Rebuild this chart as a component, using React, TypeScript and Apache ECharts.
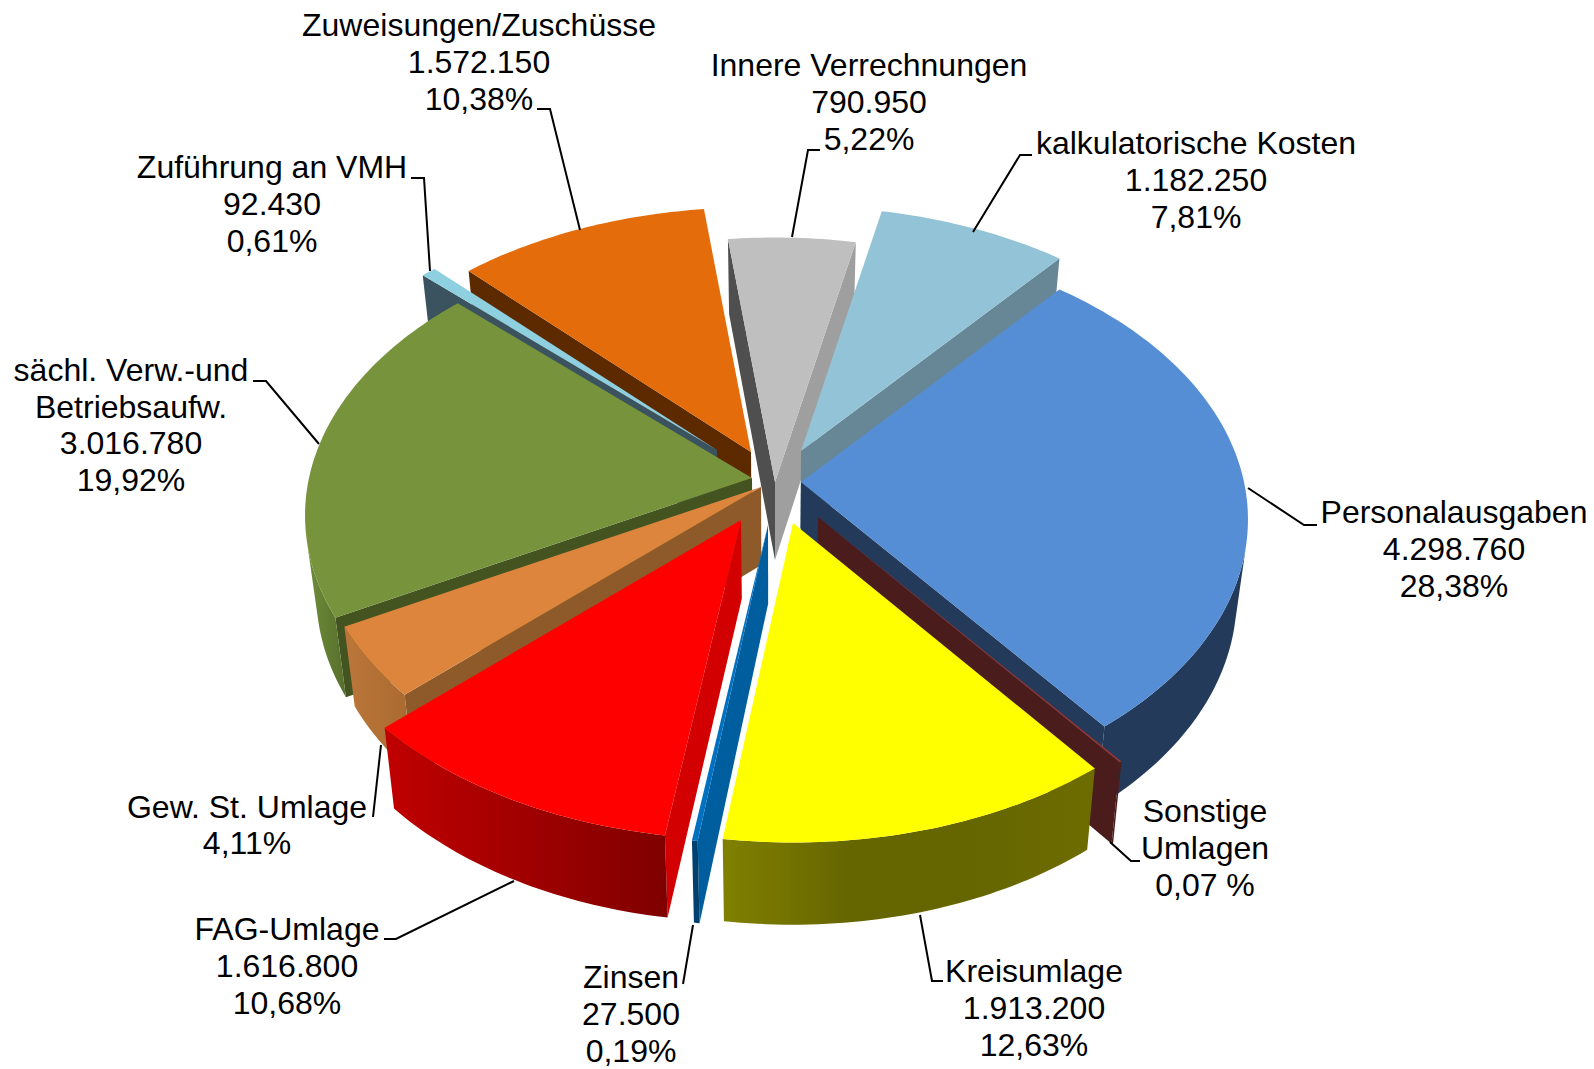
import React, { useEffect, useRef } from "react";
import * as echarts from "echarts";

// ---- data, clockwise from the Personal/kalk. boundary ----
const names = ["Personalausgaben", "Sonstige\nUmlagen", "Kreisumlage", "Zinsen", "FAG-Umlage", "Gew. St. Umlage", "sächl. Verw.-und\nBetriebsaufw.", "Zuführung an VMH", "Zuweisungen/Zuschüsse", "Innere Verrechnungen", "kalkulatorische Kosten"];
const values = [4298760, 10600, 1913200, 27500, 1616800, 622500, 3016780, 92430, 1572150, 790950, 1182250];
const amountLabels = ["4.298.760", "", "1.913.200", "27.500", "1.616.800", "", "3.016.780", "92.430", "1.572.150", "790.950", "1.182.250"];
const percentLabels = ["28,38%", "0,07 %", "12,63%", "0,19%", "10,68%", "4,11%", "19,92%", "0,61%", "10,38%", "5,22%", "7,81%"];

// ---- styles ----
const topColors = ["#558ED5", "#943634", "#FFFF00", "#0070C0", "#FF0000", "#DD853D", "#77933C", "#8ECFE0", "#E46C0A", "#BFBFBF", "#92C3D7"];
const startWallColors = ["#243A5B", "#4A1C1B", "#666600", "#005E9F", "#D20000", "#8F5A29", "#435421", "#3A535E", "#5D2A00", "#4F4F4F", "#678796"];
const endWallColors = ["#243A5B", "#4A1C1B", "#666600", "#005E9F", "#D20000", "#8F5A29", "#435421", "#3A535E", "#5D2A00", "#9F9F9F", "#678796"];
const outerWallStops = [
  ["#243A5B"], ["#4A1C1B"], ["#808000", "#666600", "#666600", "#6C6C00"], ["#00406E"],
  ["#C00000", "#A00000", "#7F0000"], ["#BC763A", "#A86A30"], ["#6F8F39", "#566D2C"],
  ["#3A535E"], ["#5D2A00"], ["#4F4F4F"], ["#678796"],
];
const drawOrder = [8, 9, 10, 7, 6, 0, 5, 1, 4, 3, 2];

// ---- layout ----
const apexes = [[801, 482], [818, 517], [793, 523], [768, 525], [741, 520], [761, 487], [752, 478], [717, 450], [751, 452], [775, 482], [801, 451]];
const startAngle = -50;
const RX = 443, RY = 277, PERSPECTIVE = 0.133;
const labelCenters = [[1454, 549], [1205, 848], [1034, 1008], [631, 1014], [287, 966], [247, 825], [131, 425], [272, 204], [479, 62], [869, 102], [1196, 180]];
const leaders = [
  [[1248, 488], [1304, 525], [1317, 525]],
  [[1110, 842], [1131, 861], [1140, 861]],
  [[920, 915], [932, 981], [943, 981]],
  [[693, 925], [683, 984]],
  [[514, 881], [396, 939], [384, 939]],
  [[381, 745], [373, 817]],
  [[319, 444], [266, 381], [253, 381]],
  [[430, 271], [424, 178], [411, 178]],
  [[580, 230], [550, 109], [537, 109]],
  [[792, 237], [808, 150], [820, 150]],
  [[973, 232], [1020, 155], [1032, 155]],
];

const total = values.reduce((a, b) => a + b, 0);
const sliceAngles = (() => {
  let cur = startAngle;
  return values.map((v) => {
    const from = cur;
    cur += (v / total) * 360;
    return [from, cur];
  });
})();

function project(apex: number[], deg: number) {
  const t = (deg * Math.PI) / 180;
  const u = Math.cos(t), v = Math.sin(t);
  const s = 1 / (1 - PERSPECTIVE * v);
  return [apex[0] + RX * u * s, apex[1] + RY * v * s];
}
function drop(p: number[]) {
  return [p[0] - (p[0] - 775) * 0.024, p[1] + 75 + (p[1] - 238) * 0.012];
}
function area(pts: number[][]) {
  let a = 0;
  pts.forEach((p, i) => {
    const q = pts[(i + 1) % pts.length];
    a += p[0] * q[1] - q[0] * p[1];
  });
  return a;
}
function makeFill(stops: string[]) {
  if (stops.length === 1) return stops[0];
  return new echarts.graphic.LinearGradient(0, 0, 1, 0, stops.map((color, i) => ({ offset: i / (stops.length - 1), color })));
}
function poly(points: number[][], fill: any) {
  return { type: "polygon", shape: { points }, style: { fill, stroke: null } };
}

function renderSlice(params: any) {
  const idx = drawOrder[params.dataIndex];
  const apex = apexes[idx];
  const [from, to] = sliceAngles[idx];
  const arc: number[][] = [];
  const n = Math.max(2, Math.ceil(to - from));
  for (let i = 0; i <= n; i++) arc.push(project(apex, from + ((to - from) * i) / n));
  const apexB = drop(apex);
  const children: any[] = [];

  const sPt = arc[0], ePt = arc[arc.length - 1];
  const startWall = [apex, sPt, drop(sPt), apexB];
  const endWall = [apex, ePt, drop(ePt), apexB];
  if (area(startWall) < 0) children.push(poly(startWall, startWallColors[idx]));
  if (area(endWall) > 0) children.push(poly(endWall, endWallColors[idx]));

  const vis: number[][] = [];
  for (let i = 0; i < arc.length - 1; i++) {
    const q = [arc[i], arc[i + 1], drop(arc[i + 1]), drop(arc[i])];
    if (area(q) < 0) {
      if (!vis.length) vis.push(arc[i]);
      vis.push(arc[i + 1]);
    }
  }
  if (vis.length > 1) {
    const wall = vis.concat(vis.slice().reverse().map(drop));
    children.push(poly(wall, makeFill(outerWallStops[idx])));
  }
  children.push(poly([apex, ...arc], topColors[idx]));
  return { type: "group", children };
}

function renderLabel(params: any) {
  const i = params.dataIndex;
  const text = [names[i], amountLabels[i], percentLabels[i]].filter(Boolean).join("\n");
  return {
    type: "group",
    children: [
      { type: "polyline", shape: { points: leaders[i] }, style: { stroke: "#000", lineWidth: 2, fill: null } },
      {
        type: "text",
        x: labelCenters[i][0],
        y: labelCenters[i][1],
        style: { text, fill: "#000", font: '32px "Liberation Sans", Arial, sans-serif', lineHeight: 36.8, align: "center", verticalAlign: "middle" },
      },
    ],
  };
}

export default function App() {
  const ref = useRef<HTMLDivElement>(null);
  useEffect(() => {
    const chart = echarts.init(ref.current!, undefined, { renderer: "svg" });
    chart.setOption({
      animation: false,
      backgroundColor: "#fff",
      series: [
        { type: "custom", coordinateSystem: "none", silent: true, clip: false, renderItem: renderSlice, data: drawOrder.map((i) => values[i]) },
        { type: "custom", coordinateSystem: "none", silent: true, clip: false, renderItem: renderLabel, data: values.slice() },
      ],
    });
    return () => chart.dispose();
  }, []);
  return <div ref={ref} style={{ position: "fixed", left: 0, top: 0, width: 1594, height: 1069 }} />;
}
